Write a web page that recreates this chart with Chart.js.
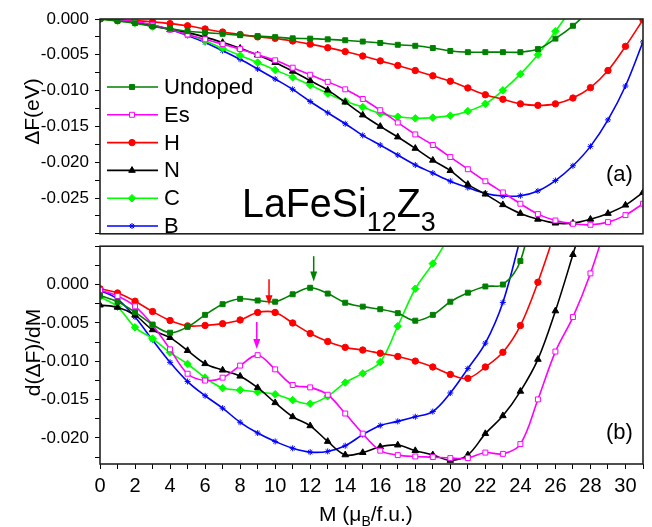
<!DOCTYPE html>
<html>
<head>
<meta charset="utf-8">
<script src="https://cdn.jsdelivr.net/npm/chart.js@4.4.0/dist/chart.umd.min.js"></script>
<style>
  body { margin: 0; background: #fff; }
  #wrap { position: relative; width: 652px; height: 527px; font-family: "Liberation Sans", Arial, sans-serif; color: #000; overflow: hidden; }
  canvas { position: absolute; left: 0; }
  .lbl { position: absolute; white-space: nowrap; line-height: 1; }
  .rot { transform-origin: center center; }
</style>
</head>
<body>
<div id="wrap">
  <canvas id="bottomChart" width="652" height="297" style="top:230px"></canvas>
  <canvas id="topChart" width="652" height="250" style="top:0"></canvas>

  <div class="lbl rot" id="yTitleTop" style="font-size:21px;">&Delta;F(eV)</div>
  <div class="lbl rot" id="yTitleBottom" style="font-size:21px;">d(&Delta;F)/dM</div>
  <div class="lbl" style="left:319px;top:503px;font-size:21px;">M (&mu;<span style="font-size:14px;position:relative;top:5px;">B</span>/f.u.)</div>
  <div class="lbl" style="left:242px;top:183px;font-size:41px;transform:scaleX(0.96);transform-origin:left top;">LaFeSi<span style="font-size:28px;position:relative;top:14px;">12</span>Z<span style="font-size:28px;position:relative;top:14px;">3</span></div>
  <div class="lbl" style="left:606px;top:163px;font-size:22px;">(a)</div>
  <div class="lbl" style="left:606px;top:421px;font-size:22px;">(b)</div>
</div>
<script>
// magnetic moment M (muB/f.u.)
const mValues = [0, 1, 2, 3, 4, 5, 6, 7, 8, 9, 10, 11, 12, 13, 14, 15, 16, 17, 18, 19, 20, 21, 22, 23, 24, 25, 26, 27, 28, 29, 30, 31];
const seriesNames = ['Undoped', 'Es', 'H', 'N', 'C', 'B'];

// panel (a): dF (eV)
const undopedF = [0, -0.00027, -0.00058, -0.00104, -0.00135, -0.0017, -0.0019, -0.00207, -0.00226, -0.00239, -0.00253, -0.0027, -0.00274, -0.00284, -0.00297, -0.00315, -0.00334, -0.0036, -0.00374, -0.00405, -0.00446, -0.00463, -0.00463, -0.00463, -0.00463, -0.0042, -0.00274, -0.00095, 0.0013];
const esF = [0, -0.00014, -0.00036, -0.00081, -0.00149, -0.00216, -0.00284, -0.00351, -0.00419, -0.005, -0.00577, -0.0068, -0.00779, -0.00878, -0.00982, -0.01117, -0.01274, -0.01446, -0.01612, -0.0176, -0.01928, -0.02098, -0.02266, -0.02422, -0.0258, -0.02725, -0.02814, -0.0286, -0.02874, -0.02837, -0.02739, -0.0258];
const hF = [0, -0.00014, -0.00023, -0.0004, -0.00064, -0.00095, -0.00139, -0.00182, -0.00216, -0.0025, -0.0027, -0.00307, -0.00351, -0.00401, -0.00455, -0.00517, -0.00585, -0.00649, -0.0072, -0.00793, -0.00869, -0.00963, -0.01058, -0.01121, -0.01185, -0.01206, -0.01185, -0.01104, -0.00959, -0.0072, -0.00382, -0.0001];
const nF = [0, -0.00014, -0.0004, -0.00095, -0.00149, -0.0019, -0.00253, -0.00328, -0.00409, -0.00504, -0.00608, -0.0073, -0.00861, -0.00993, -0.01162, -0.01341, -0.015, -0.01648, -0.01807, -0.01973, -0.02117, -0.0231, -0.02446, -0.02594, -0.02716, -0.02797, -0.02851, -0.02851, -0.02797, -0.02716, -0.026, -0.02422];
const cF = [0, -0.00027, -0.00054, -0.00104, -0.00139, -0.00216, -0.00307, -0.00409, -0.00509, -0.00608, -0.00712, -0.00815, -0.00923, -0.0104, -0.01148, -0.0123, -0.0132, -0.01365, -0.01387, -0.01378, -0.0135, -0.01287, -0.01185, -0.00996, -0.0077, -0.005, -0.00172, 0.0017];
const bF = [0, -0.00014, -0.0004, -0.00088, -0.00145, -0.0023, -0.00328, -0.00442, -0.00563, -0.00698, -0.00838, -0.00982, -0.01152, -0.0131, -0.01463, -0.01625, -0.01761, -0.019, -0.02039, -0.02152, -0.02265, -0.02355, -0.02436, -0.02472, -0.02468, -0.02401, -0.02256, -0.0205, -0.01779, -0.01409, -0.00936, -0.0032];

// panel (b): d(dF)/dM
const undopedD = [-0.00144, -0.00224, -0.0036, -0.00522, -0.00628, -0.00552, -0.00395, -0.00256, -0.00186, -0.00208, -0.00224, -0.00127, -0.00042, -0.00118, -0.00237, -0.00288, -0.00322, -0.00373, -0.00471, -0.00395, -0.00224, -0.00106, -0.00025, 0.0, 0.00306, 0.013];
const esD = [-0.00074, -0.0015, -0.00284, -0.00526, -0.00845, -0.01163, -0.01252, -0.01214, -0.01057, -0.00921, -0.01106, -0.0131, -0.01341, -0.01437, -0.01682, -0.01944, -0.02166, -0.02224, -0.02242, -0.0225, -0.02263, -0.02263, -0.02191, -0.02208, -0.0208, -0.01498, -0.00874, -0.00424, 0.00145, 0.0085];
const hD = [-0.00055, -0.0011, -0.00217, -0.00352, -0.00469, -0.00539, -0.00533, -0.0051, -0.00462, -0.00364, -0.00364, -0.00501, -0.00638, -0.00743, -0.00819, -0.00854, -0.00896, -0.00938, -0.00998, -0.01075, -0.01172, -0.01223, -0.01075, -0.00883, -0.00535, 0.0003, 0.007];
const nD = [-0.00268, -0.00297, -0.00399, -0.0059, -0.00692, -0.00861, -0.01032, -0.01116, -0.01195, -0.01345, -0.01541, -0.01724, -0.01842, -0.02046, -0.02221, -0.02191, -0.02115, -0.02093, -0.02166, -0.02221, -0.02293, -0.02221, -0.01944, -0.01711, -0.01392, -0.00976, -0.00344, 0.00391, 0.0115];
const cD = [-0.00161, -0.0029, -0.00558, -0.00705, -0.00887, -0.01036, -0.01214, -0.0135, -0.01376, -0.01401, -0.01431, -0.01507, -0.01554, -0.01456, -0.01278, -0.01159, -0.0101, -0.00543, -0.00055, 0.00273, 0.0065];
const bD = [-0.00076, -0.00189, -0.00424, -0.00724, -0.01014, -0.01265, -0.0145, -0.01612, -0.01796, -0.01936, -0.02046, -0.02135, -0.02185, -0.02176, -0.02102, -0.01957, -0.01838, -0.01784, -0.01724, -0.01656, -0.01414, -0.01096, -0.00764, -0.00233, 0.006];

// arrows in panel (b): [M, tail value, tip value, series index]
const arrowMarks = [[12.2, 0.0037, 0.0004, 0], [9.65, 0.0007, -0.0027, 2], [8.95, -0.0049, -0.0084, 1]];

const colors = ['#008000', '#ff00ff', '#ff0000', '#000000', '#00ff00', '#0000ff'];
const markers = ['rect', 'rect', 'circle', 'triangle', 'rectRot', 'star'];
const radii = [3.5, 3.5, 3.2, 3.8, 3.8, 3.0];
const fills = ['#008000', '#ffffff', '#ff0000', '#000000', '#00ff00', '#0000ff'];

const FONT = '"Liberation Sans", Arial, sans-serif';

function toPoints(arr) {
    return arr.map((v, i) => ({ x: mValues[i], y: v }));
}

function makeDatasets(list) {
    return list.map((arr, i) => ({
        label: seriesNames[i],
        data: toPoints(arr),
        borderColor: colors[i],
        backgroundColor: fills[i],
        pointBackgroundColor: fills[i],
        pointBorderColor: colors[i],
        pointStyle: markers[i],
        pointRadius: radii[i],
        pointBorderWidth: 1,
        borderWidth: 1.6,
        tension: 0.35
    }));
}

function isMajor(v) {
    const q = v / 0.005;
    return Math.abs(q - Math.round(q)) < 1e-6;
}

function fmt(v) {
    if (Math.abs(v) < 1e-9) return '0.000';
    return v.toFixed(3);
}

const framePlugin = {
    id: 'frame',
    afterDraw(chart) {
        const { ctx, chartArea: a } = chart;
        ctx.save();
        ctx.strokeStyle = '#222';
        ctx.lineWidth = 1.6;
        ctx.strokeRect(a.left, a.top, a.right - a.left, a.bottom - a.top);
        ctx.restore();
    }
};

const legendPlugin = {
    id: 'sideLegend',
    afterDraw(chart) {
        const ctx = chart.ctx;
        ctx.save();
        ctx.font = '22px ' + FONT;
        ctx.textBaseline = 'middle';
        chart.data.datasets.forEach((ds, i) => {
            const y = 87 + i * 27.8;
            ctx.strokeStyle = ds.borderColor;
            ctx.lineWidth = 1.6;
            ctx.beginPath();
            ctx.moveTo(107, y);
            ctx.lineTo(158, y);
            ctx.stroke();
            ctx.fillStyle = ds.pointBackgroundColor;
            ctx.strokeStyle = ds.pointBorderColor;
            ctx.lineWidth = 1;
            Chart.helpers.drawPoint(ctx, { pointStyle: ds.pointStyle, radius: ds.pointRadius, borderWidth: 1, rotation: 0 }, 132, y);
            ctx.fillStyle = '#000';
            ctx.fillText(ds.label, 164, y + 1);
        });
        ctx.restore();
    }
};

const arrowPlugin = {
    id: 'arrows',
    afterDatasetsDraw(chart) {
        const { ctx, scales: { x, y } } = chart;
        ctx.save();
        arrowMarks.forEach(([m, v0, v1, idx]) => {
            const px = x.getPixelForValue(m);
            const y0 = y.getPixelForValue(v0);
            const y1 = y.getPixelForValue(v1);
            ctx.strokeStyle = colors[idx];
            ctx.fillStyle = colors[idx];
            ctx.lineWidth = 1.5;
            ctx.beginPath();
            ctx.moveTo(px, y0);
            ctx.lineTo(px, y1 - 8);
            ctx.stroke();
            ctx.beginPath();
            ctx.moveTo(px - 3.5, y1 - 10);
            ctx.lineTo(px + 3.5, y1 - 10);
            ctx.lineTo(px, y1);
            ctx.closePath();
            ctx.fill();
        });
        ctx.restore();
    }
};

const tickGrid = { drawOnChartArea: false, drawTicks: true, tickLength: 5, color: '#000', lineWidth: 1 };

const topChart = new Chart(document.getElementById('topChart').getContext('2d'), {
    type: 'line',
    data: { datasets: makeDatasets([undopedF, esF, hF, nF, cF, bF]) },
    options: {
        responsive: false,
        animation: false,
        layout: { padding: { left: 0, right: 9, top: 19, bottom: 10 } },
        plugins: { legend: { display: false }, tooltip: { enabled: false } },
        scales: {
            x: { type: 'linear', min: 0, max: 31, display: false },
            y: {
                min: -0.030, max: 0,
                afterFit: (scale) => { scale.width = 100; },
                grid: tickGrid,
                border: { display: false },
                ticks: {
                    stepSize: 0.0025,
                    autoSkip: false,
                    padding: 6,
                    color: '#000',
                    font: { family: FONT, size: 17 },
                    callback: (v) => (isMajor(v) && v > -0.0299 ? fmt(v) : '')
                }
            }
        }
    },
    plugins: [framePlugin, legendPlugin]
});

const bottomChart = new Chart(document.getElementById('bottomChart').getContext('2d'), {
    type: 'line',
    data: { datasets: makeDatasets([undopedD, esD, hD, nD, cD, bD]) },
    options: {
        responsive: false,
        animation: false,
        layout: { padding: { left: 0, right: 9, top: 12, bottom: 0 } },
        plugins: { legend: { display: false }, tooltip: { enabled: false } },
        scales: {
            x: {
                type: 'linear', min: 0, max: 31,
                afterFit: (scale) => { scale.height = 63; },
                grid: tickGrid,
                border: { display: false },
                ticks: {
                    stepSize: 1,
                    padding: 5,
                    maxRotation: 0,
                    autoSkip: false,
                    color: '#000',
                    font: { family: FONT, size: 20 },
                    callback: (v) => (v % 2 === 0 ? String(v) : '')
                }
            },
            y: {
                min: -0.0234, max: 0.005,
                afterFit: (scale) => { scale.width = 100; },
                grid: tickGrid,
                border: { display: false },
                ticks: {
                    stepSize: 0.0025,
                    includeBounds: false,
                    autoSkip: false,
                    padding: 6,
                    color: '#000',
                    font: { family: FONT, size: 17 },
                    callback: (v) => (isMajor(v) && v < 0.0001 && v > -0.0201 ? fmt(v) : '')
                }
            }
        }
    },
    plugins: [framePlugin, arrowPlugin]
});

// rotated axis titles
function placeRotated(id, cx, cy) {
    const el = document.getElementById(id);
    const w = el.offsetWidth, h = el.offsetHeight;
    el.style.left = (cx - w / 2) + 'px';
    el.style.top = (cy - h / 2) + 'px';
    el.style.transform = 'rotate(-90deg)';
}
placeRotated('yTitleTop', 31, 111);
placeRotated('yTitleBottom', 33, 352);
</script>
</body>
</html>
